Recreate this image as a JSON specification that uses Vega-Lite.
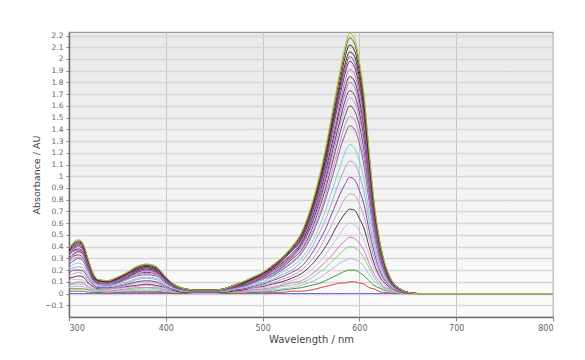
{
  "$schema": "https://vega.github.io/schema/vega-lite/v6.json",
  "autosize": {"type": "none"},
  "padding": {"left": 69, "top": 32, "right": 32, "bottom": 43},
  "width": 484,
  "height": 285,
  "background": "white",
  "config": {
    "font": "DejaVu Sans",
    "view": {
      "stroke": "#9a9a9a",
      "strokeWidth": 1.2,
      "fill": {"gradient": "linear", "x1": 0, "y1": 0, "x2": 0, "y2": 1, "stops": [{"offset": 0, "color": "#e9e9e9"}, {"offset": 1, "color": "#fbfbfb"}]}
    }
  },
  "data": {
    "values": [
      {"nm":300,"a":0.39,"b":0.38,"c":0.37,"d":0.36,"e":0.36,"f":0.35,"g":0.34,"h":0.33,"i":0.32,"j":0.30,"k":0.29,"l":0.28,"m":0.27,"n":0.25,"o":0.22,"p":0.20,"q":0.17,"r":0.15,"s":0.13,"t":0.11,"u":0.08,"v":0.07,"w":0.05,"x":0.04,"y":0.02,"z":0},
      {"nm":305,"a":0.44,"b":0.43,"c":0.42,"d":0.41,"e":0.40,"f":0.39,"g":0.38,"h":0.37,"i":0.36,"j":0.34,"k":0.33,"l":0.32,"m":0.30,"n":0.28,"o":0.25,"p":0.22,"q":0.20,"r":0.17,"s":0.14,"t":0.12,"u":0.09,"v":0.08,"w":0.06,"x":0.04,"y":0.02,"z":0},
      {"nm":310,"a":0.46,"b":0.45,"c":0.44,"d":0.43,"e":0.42,"f":0.41,"g":0.40,"h":0.38,"i":0.37,"j":0.36,"k":0.35,"l":0.33,"m":0.31,"n":0.30,"o":0.26,"p":0.23,"q":0.20,"r":0.18,"s":0.15,"t":0.12,"u":0.10,"v":0.08,"w":0.06,"x":0.04,"y":0.02,"z":0},
      {"nm":315,"a":0.42,"b":0.41,"c":0.40,"d":0.39,"e":0.38,"f":0.37,"g":0.36,"h":0.35,"i":0.34,"j":0.33,"k":0.32,"l":0.30,"m":0.29,"n":0.27,"o":0.24,"p":0.21,"q":0.19,"r":0.16,"s":0.14,"t":0.11,"u":0.09,"v":0.08,"w":0.06,"x":0.04,"y":0.02,"z":0},
      {"nm":320,"a":0.29,"b":0.28,"c":0.28,"d":0.27,"e":0.26,"f":0.26,"g":0.25,"h":0.24,"i":0.23,"j":0.23,"k":0.22,"l":0.21,"m":0.20,"n":0.19,"o":0.17,"p":0.15,"q":0.13,"r":0.11,"s":0.09,"t":0.08,"u":0.06,"v":0.05,"w":0.04,"x":0.03,"y":0.01,"z":0},
      {"nm":325,"a":0.17,"b":0.17,"c":0.16,"d":0.16,"e":0.15,"f":0.15,"g":0.15,"h":0.14,"i":0.14,"j":0.13,"k":0.13,"l":0.12,"m":0.12,"n":0.11,"o":0.10,"p":0.09,"q":0.08,"r":0.07,"s":0.06,"t":0.05,"u":0.04,"v":0.03,"w":0.02,"x":0.02,"y":0.01,"z":0},
      {"nm":330,"a":0.12,"b":0.12,"c":0.11,"d":0.11,"e":0.11,"f":0.11,"g":0.10,"h":0.10,"i":0.10,"j":0.09,"k":0.09,"l":0.09,"m":0.08,"n":0.08,"o":0.07,"p":0.06,"q":0.05,"r":0.05,"s":0.04,"t":0.03,"u":0.03,"v":0.02,"w":0.02,"x":0.01,"y":0.01,"z":0},
      {"nm":340,"a":0.11,"b":0.11,"c":0.11,"d":0.10,"e":0.10,"f":0.10,"g":0.09,"h":0.09,"i":0.09,"j":0.09,"k":0.08,"l":0.08,"m":0.07,"n":0.07,"o":0.06,"p":0.06,"q":0.05,"r":0.04,"s":0.04,"t":0.03,"u":0.02,"v":0.02,"w":0.01,"x":0.01,"y":0.00,"z":0},
      {"nm":350,"a":0.14,"b":0.14,"c":0.13,"d":0.13,"e":0.13,"f":0.12,"g":0.12,"h":0.12,"i":0.11,"j":0.11,"k":0.11,"l":0.10,"m":0.10,"n":0.09,"o":0.08,"p":0.07,"q":0.06,"r":0.05,"s":0.05,"t":0.04,"u":0.03,"v":0.03,"w":0.02,"x":0.01,"y":0.01,"z":0},
      {"nm":360,"a":0.18,"b":0.18,"c":0.17,"d":0.17,"e":0.16,"f":0.16,"g":0.15,"h":0.15,"i":0.15,"j":0.14,"k":0.14,"l":0.13,"m":0.12,"n":0.12,"o":0.10,"p":0.09,"q":0.08,"r":0.07,"s":0.06,"t":0.05,"u":0.04,"v":0.03,"w":0.02,"x":0.02,"y":0.01,"z":0},
      {"nm":370,"a":0.23,"b":0.23,"c":0.22,"d":0.21,"e":0.21,"f":0.20,"g":0.20,"h":0.19,"i":0.19,"j":0.18,"k":0.17,"l":0.17,"m":0.16,"n":0.15,"o":0.13,"p":0.12,"q":0.10,"r":0.09,"s":0.07,"t":0.06,"u":0.05,"v":0.04,"w":0.03,"x":0.02,"y":0.01,"z":0},
      {"nm":380,"a":0.25,"b":0.25,"c":0.24,"d":0.23,"e":0.23,"f":0.22,"g":0.22,"h":0.21,"i":0.20,"j":0.20,"k":0.19,"l":0.18,"m":0.17,"n":0.16,"o":0.14,"p":0.13,"q":0.11,"r":0.10,"s":0.08,"t":0.07,"u":0.05,"v":0.05,"w":0.03,"x":0.02,"y":0.01,"z":0},
      {"nm":390,"a":0.23,"b":0.23,"c":0.22,"d":0.21,"e":0.21,"f":0.20,"g":0.20,"h":0.19,"i":0.19,"j":0.18,"k":0.17,"l":0.17,"m":0.16,"n":0.15,"o":0.13,"p":0.12,"q":0.10,"r":0.09,"s":0.07,"t":0.06,"u":0.05,"v":0.04,"w":0.03,"x":0.02,"y":0.01,"z":0},
      {"nm":400,"a":0.14,"b":0.14,"c":0.13,"d":0.13,"e":0.13,"f":0.12,"g":0.12,"h":0.12,"i":0.11,"j":0.11,"k":0.11,"l":0.10,"m":0.10,"n":0.09,"o":0.08,"p":0.07,"q":0.06,"r":0.05,"s":0.05,"t":0.04,"u":0.03,"v":0.03,"w":0.02,"x":0.01,"y":0.01,"z":0},
      {"nm":410,"a":0.07,"b":0.07,"c":0.07,"d":0.07,"e":0.06,"f":0.06,"g":0.06,"h":0.06,"i":0.06,"j":0.05,"k":0.05,"l":0.05,"m":0.05,"n":0.05,"o":0.04,"p":0.04,"q":0.03,"r":0.03,"s":0.02,"t":0.02,"u":0.02,"v":0.01,"w":0.01,"x":0.01,"y":0.00,"z":0},
      {"nm":420,"a":0.04,"b":0.04,"c":0.04,"d":0.04,"e":0.04,"f":0.04,"g":0.03,"h":0.03,"i":0.03,"j":0.03,"k":0.03,"l":0.03,"m":0.03,"n":0.03,"o":0.02,"p":0.02,"q":0.02,"r":0.02,"s":0.01,"t":0.01,"u":0.01,"v":0.01,"w":0.01,"x":0.00,"y":0.00,"z":0},
      {"nm":430,"a":0.03,"b":0.03,"c":0.03,"d":0.03,"e":0.03,"f":0.03,"g":0.03,"h":0.03,"i":0.02,"j":0.02,"k":0.02,"l":0.02,"m":0.02,"n":0.02,"o":0.02,"p":0.02,"q":0.01,"r":0.01,"s":0.01,"t":0.01,"u":0.01,"v":0.01,"w":0.00,"x":0.00,"y":0.00,"z":0},
      {"nm":440,"a":0.03,"b":0.03,"c":0.03,"d":0.03,"e":0.03,"f":0.03,"g":0.03,"h":0.03,"i":0.02,"j":0.02,"k":0.02,"l":0.02,"m":0.02,"n":0.02,"o":0.02,"p":0.02,"q":0.01,"r":0.01,"s":0.01,"t":0.01,"u":0.01,"v":0.01,"w":0.00,"x":0.00,"y":0.00,"z":0},
      {"nm":450,"a":0.03,"b":0.03,"c":0.03,"d":0.03,"e":0.03,"f":0.03,"g":0.03,"h":0.03,"i":0.02,"j":0.02,"k":0.02,"l":0.02,"m":0.02,"n":0.02,"o":0.02,"p":0.02,"q":0.01,"r":0.01,"s":0.01,"t":0.01,"u":0.01,"v":0.01,"w":0.00,"x":0.00,"y":0.00,"z":0},
      {"nm":460,"a":0.04,"b":0.04,"c":0.04,"d":0.04,"e":0.04,"f":0.04,"g":0.03,"h":0.03,"i":0.03,"j":0.03,"k":0.03,"l":0.03,"m":0.03,"n":0.03,"o":0.02,"p":0.02,"q":0.02,"r":0.02,"s":0.01,"t":0.01,"u":0.01,"v":0.01,"w":0.01,"x":0.00,"y":0.00,"z":0},
      {"nm":470,"a":0.07,"b":0.07,"c":0.07,"d":0.07,"e":0.06,"f":0.06,"g":0.06,"h":0.06,"i":0.06,"j":0.05,"k":0.05,"l":0.05,"m":0.05,"n":0.05,"o":0.04,"p":0.04,"q":0.03,"r":0.03,"s":0.02,"t":0.02,"u":0.02,"v":0.01,"w":0.01,"x":0.01,"y":0.00,"z":0},
      {"nm":480,"a":0.10,"b":0.10,"c":0.10,"d":0.09,"e":0.09,"f":0.09,"g":0.09,"h":0.08,"i":0.08,"j":0.08,"k":0.08,"l":0.07,"m":0.07,"n":0.06,"o":0.06,"p":0.05,"q":0.04,"r":0.04,"s":0.03,"t":0.03,"u":0.02,"v":0.02,"w":0.01,"x":0.01,"y":0.00,"z":0},
      {"nm":490,"a":0.14,"b":0.14,"c":0.13,"d":0.13,"e":0.13,"f":0.12,"g":0.12,"h":0.12,"i":0.11,"j":0.11,"k":0.11,"l":0.10,"m":0.10,"n":0.09,"o":0.08,"p":0.07,"q":0.06,"r":0.05,"s":0.05,"t":0.04,"u":0.03,"v":0.03,"w":0.02,"x":0.01,"y":0.01,"z":0},
      {"nm":500,"a":0.18,"b":0.18,"c":0.17,"d":0.17,"e":0.16,"f":0.16,"g":0.15,"h":0.15,"i":0.15,"j":0.14,"k":0.14,"l":0.13,"m":0.12,"n":0.12,"o":0.10,"p":0.09,"q":0.08,"r":0.07,"s":0.06,"t":0.05,"u":0.04,"v":0.03,"w":0.02,"x":0.02,"y":0.01,"z":0},
      {"nm":510,"a":0.24,"b":0.24,"c":0.23,"d":0.22,"e":0.22,"f":0.21,"g":0.21,"h":0.20,"i":0.19,"j":0.19,"k":0.18,"l":0.17,"m":0.16,"n":0.15,"o":0.14,"p":0.12,"q":0.11,"r":0.09,"s":0.08,"t":0.06,"u":0.05,"v":0.04,"w":0.03,"x":0.02,"y":0.01,"z":0},
      {"nm":520,"a":0.31,"b":0.30,"c":0.30,"d":0.29,"e":0.28,"f":0.28,"g":0.27,"h":0.26,"i":0.25,"j":0.24,"k":0.23,"l":0.22,"m":0.21,"n":0.20,"o":0.18,"p":0.16,"q":0.14,"r":0.12,"s":0.10,"t":0.08,"u":0.07,"v":0.06,"w":0.04,"x":0.03,"y":0.01,"z":0},
      {"nm":530,"a":0.40,"b":0.39,"c":0.38,"d":0.37,"e":0.36,"f":0.36,"g":0.34,"h":0.33,"i":0.32,"j":0.31,"k":0.30,"l":0.29,"m":0.27,"n":0.26,"o":0.23,"p":0.20,"q":0.18,"r":0.15,"s":0.13,"t":0.11,"u":0.09,"v":0.07,"w":0.05,"x":0.04,"y":0.02,"z":0},
      {"nm":540,"a":0.52,"b":0.51,"c":0.50,"d":0.48,"e":0.47,"f":0.46,"g":0.45,"h":0.43,"i":0.42,"j":0.41,"k":0.39,"l":0.37,"m":0.35,"n":0.34,"o":0.30,"p":0.27,"q":0.23,"r":0.20,"s":0.17,"t":0.14,"u":0.11,"v":0.09,"w":0.07,"x":0.05,"y":0.02,"z":0},
      {"nm":550,"a":0.74,"b":0.73,"c":0.71,"d":0.69,"e":0.67,"f":0.66,"g":0.64,"h":0.62,"i":0.60,"j":0.58,"k":0.56,"l":0.53,"m":0.50,"n":0.48,"o":0.42,"p":0.38,"q":0.33,"r":0.28,"s":0.24,"t":0.20,"u":0.16,"v":0.13,"w":0.10,"x":0.07,"y":0.03,"z":0},
      {"nm":560,"a":1.05,"b":1.03,"c":1.00,"d":0.98,"e":0.96,"f":0.93,"g":0.90,"h":0.88,"i":0.85,"j":0.82,"k":0.79,"l":0.76,"m":0.71,"n":0.68,"o":0.60,"p":0.54,"q":0.47,"r":0.40,"s":0.34,"t":0.28,"u":0.23,"v":0.19,"w":0.14,"x":0.09,"y":0.05,"z":0},
      {"nm":565,"a":1.24,"b":1.22,"c":1.18,"d":1.15,"e":1.13,"f":1.10,"g":1.07,"h":1.04,"i":1.00,"j":0.97,"k":0.93,"l":0.89,"m":0.84,"n":0.80,"o":0.71,"p":0.63,"q":0.55,"r":0.48,"s":0.40,"t":0.33,"u":0.27,"v":0.22,"w":0.17,"x":0.11,"y":0.06,"z":0},
      {"nm":570,"a":1.46,"b":1.43,"c":1.39,"d":1.36,"e":1.33,"f":1.30,"g":1.26,"h":1.22,"i":1.18,"j":1.14,"k":1.10,"l":1.05,"m":0.99,"n":0.94,"o":0.83,"p":0.74,"q":0.65,"r":0.56,"s":0.47,"t":0.39,"u":0.31,"v":0.26,"w":0.20,"x":0.13,"y":0.07,"z":0},
      {"nm":575,"a":1.68,"b":1.65,"c":1.60,"d":1.56,"e":1.53,"f":1.50,"g":1.44,"h":1.40,"i":1.36,"j":1.31,"k":1.26,"l":1.21,"m":1.14,"n":1.08,"o":0.96,"p":0.86,"q":0.75,"r":0.65,"s":0.55,"t":0.45,"u":0.36,"v":0.30,"w":0.23,"x":0.15,"y":0.08,"z":0},
      {"nm":580,"a":1.90,"b":1.86,"c":1.81,"d":1.77,"e":1.73,"f":1.69,"g":1.63,"h":1.59,"i":1.54,"j":1.48,"k":1.43,"l":1.37,"m":1.29,"n":1.23,"o":1.08,"p":0.97,"q":0.85,"r":0.73,"s":0.62,"t":0.51,"u":0.41,"v":0.34,"w":0.26,"x":0.17,"y":0.09,"z":0},
      {"nm":585,"a":2.10,"b":2.06,"c":2.01,"d":1.95,"e":1.91,"f":1.87,"g":1.81,"h":1.75,"i":1.70,"j":1.64,"k":1.58,"l":1.51,"m":1.43,"n":1.35,"o":1.20,"p":1.07,"q":0.93,"r":0.81,"s":0.68,"t":0.57,"u":0.45,"v":0.38,"w":0.28,"x":0.19,"y":0.09,"z":0},
      {"nm":590,"a":2.22,"b":2.18,"c":2.12,"d":2.06,"e":2.02,"f":1.98,"g":1.91,"h":1.85,"i":1.80,"j":1.73,"k":1.67,"l":1.60,"m":1.51,"n":1.43,"o":1.27,"p":1.13,"q":0.99,"r":0.85,"s":0.72,"t":0.60,"u":0.48,"v":0.40,"w":0.30,"x":0.20,"y":0.10,"z":0},
      {"nm":595,"a":2.17,"b":2.13,"c":2.07,"d":2.02,"e":1.97,"f":1.93,"g":1.87,"h":1.81,"i":1.76,"j":1.69,"k":1.63,"l":1.56,"m":1.48,"n":1.40,"o":1.24,"p":1.11,"q":0.97,"r":0.84,"s":0.71,"t":0.59,"u":0.47,"v":0.39,"w":0.29,"x":0.20,"y":0.10,"z":0},
      {"nm":600,"a":1.98,"b":1.94,"c":1.89,"d":1.84,"e":1.80,"f":1.76,"g":1.70,"h":1.65,"i":1.60,"j":1.54,"k":1.49,"l":1.43,"m":1.35,"n":1.28,"o":1.13,"p":1.01,"q":0.88,"r":0.76,"s":0.64,"t":0.53,"u":0.43,"v":0.36,"w":0.27,"x":0.18,"y":0.09,"z":0},
      {"nm":605,"a":1.68,"b":1.65,"c":1.60,"d":1.56,"e":1.53,"f":1.50,"g":1.44,"h":1.40,"i":1.36,"j":1.31,"k":1.26,"l":1.21,"m":1.14,"n":1.08,"o":0.96,"p":0.86,"q":0.75,"r":0.65,"s":0.55,"t":0.45,"u":0.36,"v":0.30,"w":0.23,"x":0.15,"y":0.08,"z":0},
      {"nm":610,"a":1.22,"b":1.20,"c":1.17,"d":1.13,"e":1.11,"f":1.09,"g":1.05,"h":1.02,"i":0.99,"j":0.95,"k":0.92,"l":0.88,"m":0.83,"n":0.79,"o":0.70,"p":0.62,"q":0.54,"r":0.47,"s":0.40,"t":0.33,"u":0.26,"v":0.22,"w":0.16,"x":0.11,"y":0.05,"z":0},
      {"nm":615,"a":0.80,"b":0.78,"c":0.76,"d":0.74,"e":0.73,"f":0.71,"g":0.69,"h":0.67,"i":0.65,"j":0.62,"k":0.60,"l":0.58,"m":0.54,"n":0.52,"o":0.46,"p":0.41,"q":0.36,"r":0.31,"s":0.26,"t":0.22,"u":0.17,"v":0.14,"w":0.11,"x":0.07,"y":0.04,"z":0},
      {"nm":620,"a":0.50,"b":0.49,"c":0.48,"d":0.47,"e":0.46,"f":0.45,"g":0.43,"h":0.42,"i":0.41,"j":0.39,"k":0.38,"l":0.36,"m":0.34,"n":0.32,"o":0.29,"p":0.26,"q":0.22,"r":0.19,"s":0.16,"t":0.14,"u":0.11,"v":0.09,"w":0.07,"x":0.05,"y":0.02,"z":0},
      {"nm":625,"a":0.30,"b":0.29,"c":0.29,"d":0.28,"e":0.27,"f":0.27,"g":0.26,"h":0.25,"i":0.24,"j":0.23,"k":0.23,"l":0.22,"m":0.20,"n":0.19,"o":0.17,"p":0.15,"q":0.13,"r":0.12,"s":0.10,"t":0.08,"u":0.06,"v":0.05,"w":0.04,"x":0.03,"y":0.01,"z":0},
      {"nm":630,"a":0.17,"b":0.17,"c":0.16,"d":0.16,"e":0.15,"f":0.15,"g":0.15,"h":0.14,"i":0.14,"j":0.13,"k":0.13,"l":0.12,"m":0.12,"n":0.11,"o":0.10,"p":0.09,"q":0.08,"r":0.07,"s":0.06,"t":0.05,"u":0.04,"v":0.03,"w":0.02,"x":0.02,"y":0.01,"z":0},
      {"nm":635,"a":0.09,"b":0.09,"c":0.09,"d":0.08,"e":0.08,"f":0.08,"g":0.08,"h":0.08,"i":0.07,"j":0.07,"k":0.07,"l":0.06,"m":0.06,"n":0.06,"o":0.05,"p":0.05,"q":0.04,"r":0.03,"s":0.03,"t":0.02,"u":0.02,"v":0.02,"w":0.01,"x":0.01,"y":0.00,"z":0},
      {"nm":640,"a":0.05,"b":0.05,"c":0.05,"d":0.05,"e":0.05,"f":0.04,"g":0.04,"h":0.04,"i":0.04,"j":0.04,"k":0.04,"l":0.04,"m":0.03,"n":0.03,"o":0.03,"p":0.03,"q":0.02,"r":0.02,"s":0.02,"t":0.01,"u":0.01,"v":0.01,"w":0.01,"x":0.00,"y":0.00,"z":0},
      {"nm":650,"a":0.01,"b":0.01,"c":0.01,"d":0.01,"e":0.01,"f":0.01,"g":0.01,"h":0.01,"i":0.01,"j":0.01,"k":0.01,"l":0.01,"m":0.01,"n":0.01,"o":0.01,"p":0.01,"q":0,"r":0,"s":0,"t":0,"u":0,"v":0,"w":0,"x":0,"y":0,"z":0},
      {"nm":660,"a":0,"b":0,"c":0,"d":0,"e":0,"f":0,"g":0,"h":0,"i":0,"j":0,"k":0,"l":0,"m":0,"n":0,"o":0,"p":0,"q":0,"r":0,"s":0,"t":0,"u":0,"v":0,"w":0,"x":0,"y":0,"z":0},
      {"nm":800,"a":0,"b":0,"c":0,"d":0,"e":0,"f":0,"g":0,"h":0,"i":0,"j":0,"k":0,"l":0,"m":0,"n":0,"o":0,"p":0,"q":0,"r":0,"s":0,"t":0,"u":0,"v":0,"w":0,"x":0,"y":0,"z":0}
    ]
  },
  "transform": [
    {"fold": ["z","y","x","w","v","u","t","s","r","q","p","o","n","m","l","k","j","i","h","g","f","e","d","c","b","a"], "as": ["curve", "A"]}
  ],
  "mark": {"type": "line", "strokeWidth": 1, "interpolate": "monotone", "clip": true},
  "encoding": {
    "x": {
      "field": "nm", "type": "quantitative",
      "scale": {"domain": [300, 800], "nice": false, "zero": false},
      "axis": {
        "title": "Wavelength / nm",
        "values": [300, 400, 500, 600, 700, 800],
        "grid": true, "gridColor": "#c6c6c6", "gridWidth": 1,
        "domainColor": "#707070", "domainWidth": 1.5,
        "tickColor": "#888888", "tickSize": 4,
        "labelFontSize": 8, "labelColor": "#666666", "labelPadding": 3,
        "titleFontSize": 10, "titleFontWeight": "normal", "titleColor": "#444444", "titlePadding": 2
      }
    },
    "y": {
      "field": "A", "type": "quantitative",
      "scale": {"domain": [-0.2, 2.23], "nice": false, "zero": false},
      "axis": {
        "title": "Absorbance / AU",
        "values": [-0.1, 0, 0.1, 0.2, 0.3, 0.4, 0.5, 0.6, 0.7, 0.8, 0.9, 1, 1.1, 1.2, 1.3, 1.4, 1.5, 1.6, 1.7, 1.8, 1.9, 2, 2.1, 2.2],
        "format": "~g",
        "grid": true, "gridColor": "#d6d6d6", "gridWidth": 1.3,
        "domainColor": "#707070", "domainWidth": 1.5,
        "tickColor": "#888888", "tickSize": 3,
        "labelFontSize": 7.5, "labelColor": "#666666", "labelPadding": 3,
        "titleFontSize": 9.5, "titleFontWeight": "normal", "titleColor": "#444444", "titlePadding": 3
      }
    },
    "color": {
      "field": "curve", "type": "nominal", "legend": null,
      "scale": {
        "domain": ["a","b","c","d","e","f","g","h","i","j","k","l","m","n","o","p","q","r","s","t","u","v","w","x","y","z"],
        "range": ["#a4c639","#7a5c1e","#4b1f45","#333333","#9b4f90","#6d2c60","#c46fb5","#45305c","#a878c8","#7e2f6e","#b79ad4","#5e4f5e","#c88ad6","#8c52a2","#7fd0d0","#a6a6cc","#8a44a8","#c4a6c6","#4e3a55","#c8c0d8","#e06ed8","#7ed87e","#b8b4e6","#3e963e","#d8463c","#5b6cf0"]
      }
    }
  }
}
